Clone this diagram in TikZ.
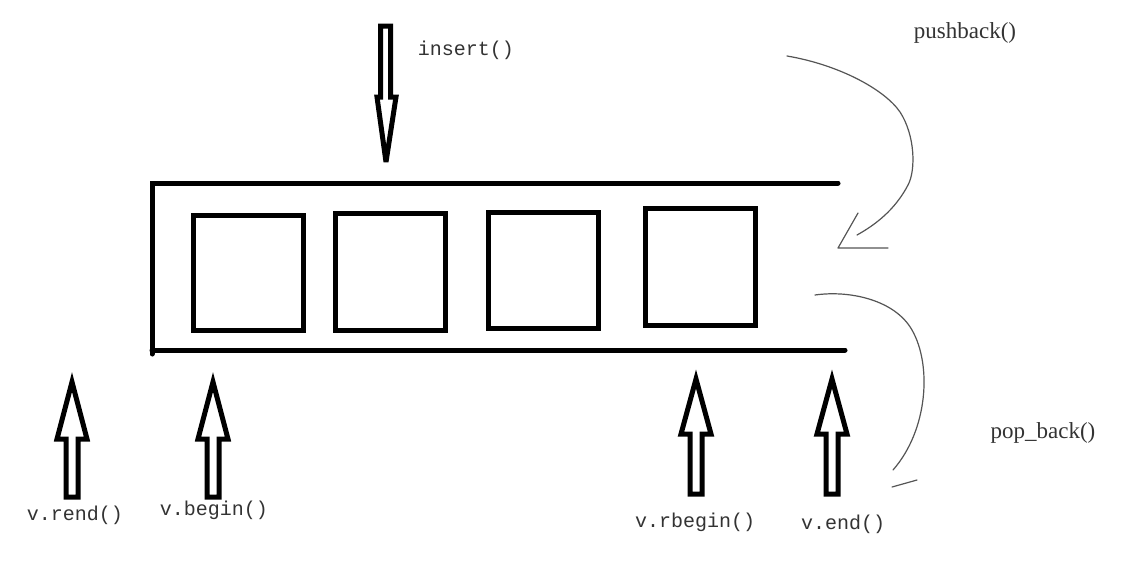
\documentclass[tikz,border=0pt]{standalone}
\usepackage{fontspec}
\newfontfamily\monof{Liberation Mono}
\newfontfamily\seriff{Liberation Serif}
\definecolor{txt}{HTML}{333333}
\definecolor{crv}{HTML}{555555}
\tikzset{
  thickline/.style={line width=5pt, line cap=round},
  cell/.style={line width=5pt},
  hollow/.style={line width=5pt, fill=white, line join=miter, miter limit=4},
  thin/.style={draw=crv, line width=1.2pt, line cap=round, line join=round},
  lbl/.style={text=txt, font=\monof\fontsize{20}{20}\selectfont, inner sep=0pt},
  slbl/.style={text=txt, font=\seriff\fontsize{23}{23}\selectfont, inner sep=0pt},
}
\newcommand\hollowup[4]{% cx, tip y, head base y, bottom y
  \draw[hollow] (#1,#2) -- (#1+15,#3) -- (#1+6,#3) -- (#1+6,#4) -- (#1-6,#4) -- (#1-6,#3) -- (#1-15,#3) -- cycle;}
\begin{document}
\begin{tikzpicture}[x=1pt,y=-1pt]
\useasboundingbox (0,0) rectangle (1134,579);
\fill[white] (0,0) rectangle (1134,579);
% container
\draw[thickline] (838,183) -- (152,183) -- (152,354);
\draw[thickline] (152,350) -- (845,350);
% cells
\draw[cell] (193,215) rectangle (303,330);
\draw[cell] (335,213) rectangle (445,330);
\draw[cell] (488,212) rectangle (598,328);
\draw[cell] (645,208) rectangle (755,325);
% insert arrow (down)
\draw[hollow] (380.5,26) -- (390.5,26) -- (390.5,97) -- (396,97) -- (386,162) -- (377,97) -- (380.5,97) -- cycle;
% up arrows
\hollowup{72}{382}{439}{497}
\hollowup{213}{382}{439}{497}
\hollowup{696}{379}{434}{494}
\hollowup{832}{379}{434}{494}
% pushback curve
\draw[thin] (787,56) .. controls (840,65) and (885,90) .. (900,112)
  .. controls (915,135) and (916,170) .. (908,185)
  .. controls (895,210) and (875,225) .. (857,235);
\draw[thin] (858,213) -- (838,248) -- (888,248);
% pop_back curve
\draw[thin] (815,295) .. controls (850,290) and (895,300) .. (912,330)
  .. controls (932,365) and (928,430) .. (893,470);
\draw[thin] (892,487) -- (917,480);
% labels
\node[lbl] (ins) at (466,50) {insert()};
\node[slbl] (pb) at (965,33) {pushback()};
\node[slbl] (pop) at (1043,433) {pop\_back()};
\node[lbl] (rend) at (75,515) {v.rend()};
\node[lbl] (beg) at (214,510) {v.begin()};
\node[lbl] (rbeg) at (695,522) {v.rbegin()};
\node[lbl] (endl) at (843,524) {v.end()};
\end{tikzpicture}
\end{document}
